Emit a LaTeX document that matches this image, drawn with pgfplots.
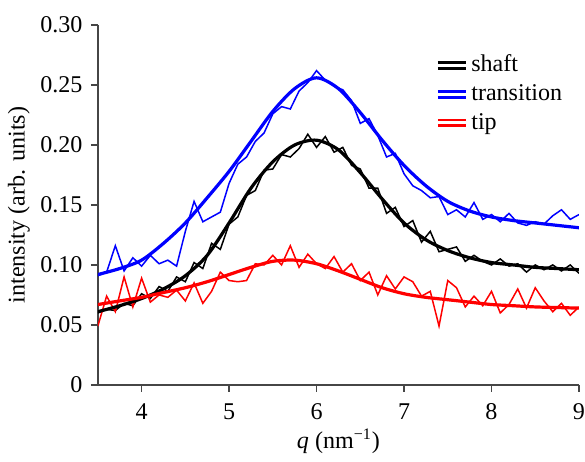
\documentclass[border=0pt]{standalone}
\usepackage{fontspec}
\setmainfont{Liberation Serif}
\usepackage{pgfplots}
\pgfplotsset{compat=1.18}
\definecolor{axgray}{RGB}{70,70,70}
\definecolor{pblue}{RGB}{0,0,255}
\definecolor{pred}{RGB}{255,0,0}

% smooth fits
\pgfplotstableread{
q shaft trans tip
3.50 0.061 0.092 0.067
3.75 0.066 0.097 0.070
4.00 0.072 0.104 0.073
4.25 0.080 0.118 0.077
4.50 0.091 0.135 0.081
4.75 0.108 0.156 0.086
5.00 0.135 0.178 0.092
5.25 0.164 0.203 0.098
5.50 0.186 0.228 0.103
5.75 0.200 0.247 0.104
6.00 0.204 0.256 0.101
6.25 0.196 0.247 0.095
6.50 0.177 0.227 0.088
6.75 0.155 0.204 0.081
7.00 0.135 0.183 0.076
7.25 0.121 0.166 0.073
7.50 0.112 0.153 0.071
7.75 0.106 0.145 0.069
8.00 0.102 0.140 0.067
8.25 0.100 0.137 0.066
8.50 0.098 0.135 0.065
8.75 0.097 0.133 0.0645
9.00 0.096 0.131 0.064
}\fits

% measured data
\pgfplotstableread{
q shaft trans tip
3.5 0.060 0.091 0.049
3.6 0.063 0.094 0.074
3.7 0.062 0.116 0.061
3.8 0.068 0.095 0.090
3.9 0.066 0.106 0.065
4.0 0.076 0.099 0.089
4.1 0.072 0.108 0.069
4.2 0.082 0.101 0.075
4.3 0.078 0.104 0.073
4.4 0.090 0.099 0.079
4.5 0.086 0.128 0.070
4.6 0.102 0.153 0.085
4.7 0.097 0.136 0.068
4.8 0.118 0.140 0.078
4.9 0.113 0.144 0.094
5.0 0.134 0.168 0.087
5.1 0.140 0.184 0.086
5.2 0.158 0.190 0.087
5.3 0.162 0.203 0.101
5.4 0.179 0.210 0.100
5.5 0.180 0.226 0.108
5.6 0.192 0.232 0.100
5.7 0.190 0.230 0.116
5.8 0.197 0.245 0.098
5.9 0.209 0.252 0.109
6.0 0.198 0.262 0.101
6.1 0.207 0.254 0.097
6.2 0.194 0.249 0.107
6.3 0.198 0.246 0.094
6.4 0.183 0.237 0.101
6.5 0.180 0.218 0.087
6.6 0.164 0.222 0.094
6.7 0.164 0.208 0.075
6.8 0.143 0.190 0.091
6.9 0.148 0.193 0.080
7.0 0.132 0.176 0.090
7.1 0.137 0.166 0.086
7.2 0.119 0.162 0.074
7.3 0.128 0.156 0.078
7.4 0.111 0.157 0.049
7.5 0.113 0.142 0.087
7.6 0.115 0.146 0.081
7.7 0.103 0.140 0.065
7.8 0.108 0.152 0.074
7.9 0.103 0.138 0.066
8.0 0.100 0.142 0.078
8.1 0.105 0.136 0.060
8.2 0.099 0.143 0.067
8.3 0.101 0.135 0.080
8.4 0.094 0.133 0.064
8.5 0.100 0.136 0.081
8.6 0.096 0.134 0.070
8.7 0.100 0.141 0.061
8.8 0.095 0.146 0.068
8.9 0.100 0.138 0.058
9.0 0.093 0.142 0.065
}\data

\begin{document}
\rmfamily\fontsize{12}{14}\selectfont
\begin{tikzpicture}[font=\rmfamily\fontsize{12}{14}\selectfont]
\begin{axis}[
    name=ax,
    scale only axis,
    width=240pt,
    height=179.5pt,
    xmin=3.5, xmax=9,
    ymin=0, ymax=0.30,
    axis lines*=left,
    axis line style={axgray, line width=0.8pt},
    tick style={axgray, line width=0.8pt},
    tick align=outside,
    major tick length=3.5pt,
    xtick={4,5,6,7,8,9},
    xticklabels={4,5,6,7,8,9},
    ytick={0,0.05,0.10,0.15,0.20,0.25,0.30},
    yticklabels={0,0.05,0.10,0.15,0.20,0.25,0.30},
    /pgf/number format/assume math mode=true,
    ticklabel style={font=\rmfamily\fontsize{12}{14}\selectfont},
    xticklabel style={yshift=-1.5pt, inner xsep=0pt},
    label style={font=\rmfamily\fontsize{12}{14}\selectfont},
    xlabel={\textit{q} (nm\textsuperscript{−1})},
    xlabel style={yshift=3.5pt},
    ylabel={intensity (arb. units)},
    ylabel shift=-3pt,
    legend style={draw=none, fill=none, at={(0.69,0.94)}, anchor=north west,
        font=\rmfamily\fontsize{12}{14}\selectfont, row sep=0.5pt,
        nodes={inner xsep=2pt}},
    legend cell align=left,
    legend image code/.code={
        \draw[#1, line width=1.1pt] (0pt,1.4pt) -- (14pt,1.4pt);
        \draw[#1, line width=1.5pt] (0pt,-1.4pt) -- (14pt,-1.4pt);
    },
]
\addplot[black, line width=0.75pt, forget plot] table[x=q, y=shaft] {\data};
\addplot[pblue, line width=0.75pt, forget plot] table[x=q, y=trans] {\data};
\addplot[pred, line width=0.75pt, forget plot] table[x=q, y=tip] {\data};

\addplot[black, line width=1.6pt, smooth] table[x=q, y=shaft] {\fits};
\addlegendentry{shaft}
\addplot[pblue, line width=1.6pt, smooth] table[x=q, y=trans] {\fits};
\addlegendentry{transition}
\addplot[pred, line width=1.6pt, smooth] table[x=q, y=tip] {\fits};
\addlegendentry{tip}
\end{axis}
\path (ax.north) -- ++(0,12.5pt);
\end{tikzpicture}
\end{document}
